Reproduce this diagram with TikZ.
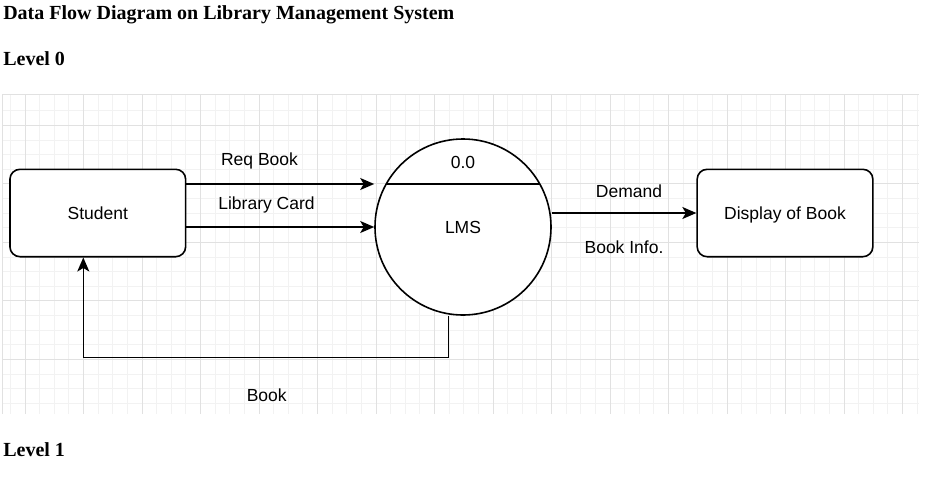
\documentclass[tikz,border=0pt]{standalone}
\usepackage{fontspec}
\setmainfont{Liberation Serif}
\setsansfont{Liberation Sans}
\usetikzlibrary{shapes,arrows.meta}
\definecolor{gridmajor}{HTML}{E1E1E1}
\definecolor{gridminor}{HTML}{F2F2F2}
\tikzset{
	entity/.style  = {draw, line width=1.6pt, rectangle, rounded corners=10pt,
		minimum width=175.7pt, minimum height=87.4pt, font=\dfdfont,
		text height=12.6pt, text depth=0pt},
	process/.style = {draw, line width=1.6pt, circle, minimum size=176pt,
		inner sep=0pt, font=\dfdfont}, % Process
	flowlabel/.style = {inner sep=0pt, text height=12.6pt, text depth=0pt,
		font=\dfdfont}, % Label of a flow
	flow/.style = {line width=1.6pt,
		-{Stealth[length=14pt, width=12pt, inset=3.5pt]}}, % Data flow
	heading/.style = {anchor=base west, inner sep=0pt,
		font=\bfseries\fontsize{20}{23}\selectfont},
	minorline/.style = {draw=gridminor, line width=0.8pt},
	majorline/.style = {draw=gridmajor, line width=0.9pt}
}
\newcommand{\dfdfont}{\sffamily\fontsize{17.5}{20}\selectfont}

\begin{document}
\begin{tikzpicture}[x=1pt, y=1pt, line width=1.6pt]
	\useasboundingbox (0,0) rectangle (928,-477);
	
	% grid
	\foreach \i in {0,...,62}
	\draw[minorline] ({10.375+14.625*\i},-94) -- ++(0,-320);
	\foreach \j in {0,...,20}
	\draw[minorline] (2.5,{-110.675-14.625*\j}) -- ++(916.5,0);
	\foreach \i in {0,...,15}
	\draw[majorline] ({25+58.5*\i},-94) -- ++(0,-320);
	\foreach \j in {0,...,4}
	\draw[majorline] (2.5,{-125.3-58.5*\j}) -- ++(916.5,0);
	\draw[majorline] (2.5,-414) -- (2.5,-94) -- (919,-94);
	
	\draw
	node at (2.5,-19) [heading] (title) {Data Flow Diagram on Library Management System}
	node at (2.5,-65.7) [heading] (lvl0) {Level 0}
	node at (2.5,-456.7) [heading] (lvl1) {Level 1};
	
	\draw
	node at (97.8,-213) [entity, fill=white] (student) {Student}
	node at (463,-227) [process, fill=white] (lms) {LMS}
	node at (785,-213) [entity, fill=white] (display) {Display of Book}
	node at (463,-161.7) [flowlabel] (num) {0.0}
	node at (259.5,-159.3) [flowlabel] (req) {Req Book}
	node at (266.5,-203.3) [flowlabel] (card) {Library Card}
	node at (629,-190.7) [flowlabel] (demand) {Demand}
	node at (624,-247.3) [flowlabel] (info) {Book Info.}
	node at (266.7,-395) [flowlabel] (book) {Book};
	
	\draw (lms.center) ++(-76.6,43.3) -- ++(153.2,0);
	
	\draw[flow]([yshift=29pt]student.east)--([yshift=43pt]lms.west);
	\draw[flow]([yshift=-14pt]student.east)--(lms.west);
	\draw[flow](display.west -| lms.east)--(display.west);
	\draw[flow]([xshift=-14.7pt]lms.south)--++(0,-41.5)-|([xshift=-14.5pt]student.south);
	
\end{tikzpicture}
\end{document}
